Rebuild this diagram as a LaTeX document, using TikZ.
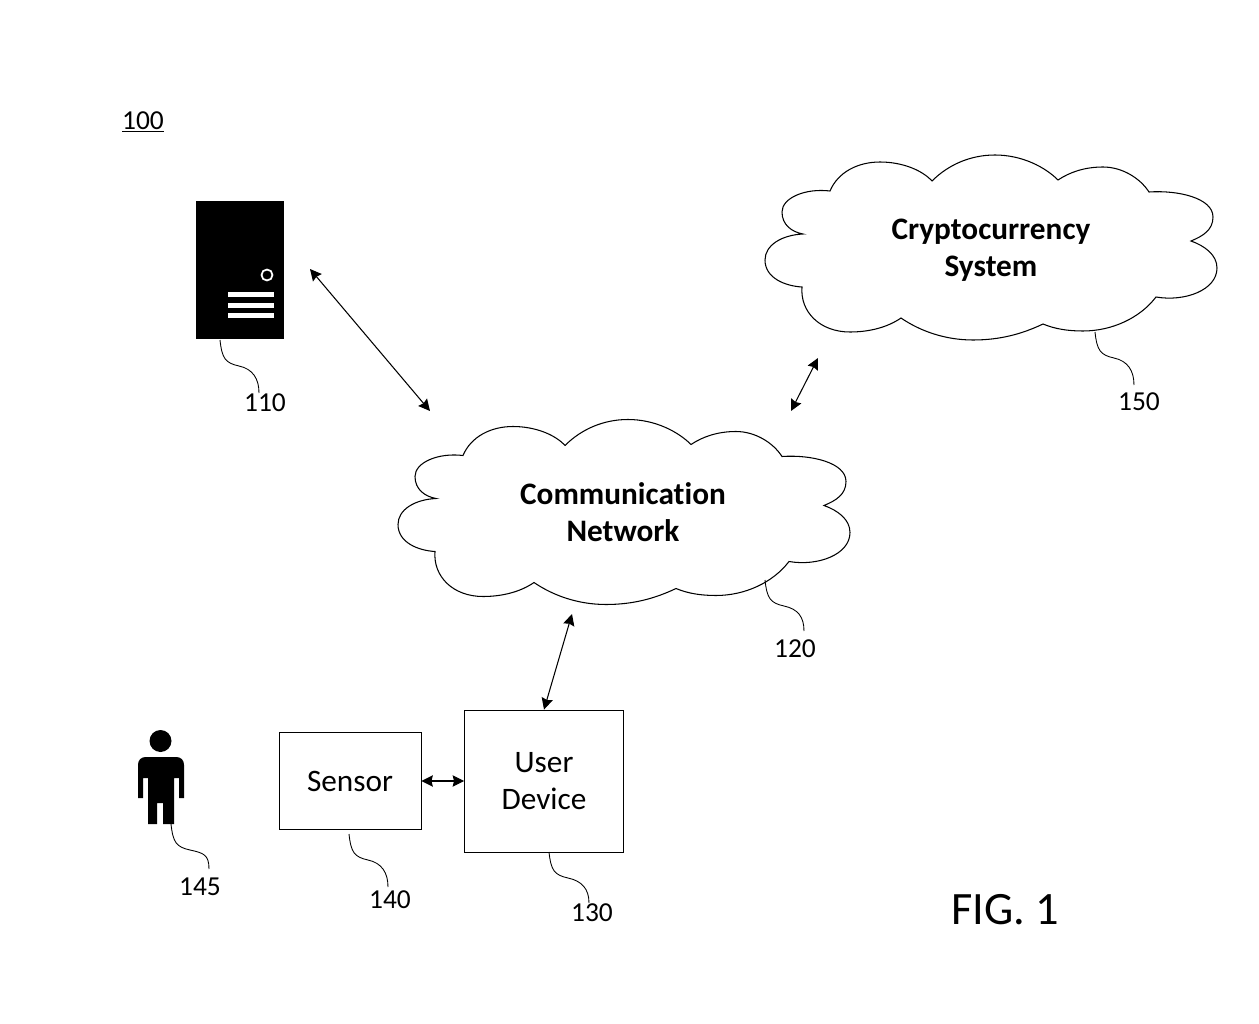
\documentclass[tikz,border=0pt]{standalone}
\usepackage{fontspec}
\setmainfont[Ligatures=NoCommon]{Carlito}
\usetikzlibrary{arrows.meta}

\tikzset{
    link/.style={{Stealth[length=6.5pt,width=6.5pt,inset=0.8pt]}-{Stealth[length=6.5pt,width=6.5pt,inset=0.8pt]},line width=0.6pt},
    leader/.style={line width=0.5pt},
    box/.style={draw,line width=0.5pt,font=\fontsize{17.8}{21.3}\selectfont,align=center,inner sep=0pt},
    cloudtext/.style={font=\fontsize{17.8}{21.3}\selectfont\bfseries,align=center},
    number/.style={font=\fontsize{15.6}{18}\selectfont,inner sep=0pt}
}

% outline of a cloud, in picture pixels
\newcommand{\cloudpath}{
    (830,191) .. controls (838,172) and (858,162) .. (880,162)
    .. controls (902,162) and (922,170) .. (932,181)
    .. controls (948,165) and (970,155) .. (995,155)
    .. controls (1022,155) and (1045,167) .. (1058,180)
    .. controls (1070,172) and (1085,167) .. (1103,167)
    .. controls (1122,167) and (1140,178) .. (1149,192)
    .. controls (1178,190) and (1213,198) .. (1213,217)
    .. controls (1213,230) and (1203,236) .. (1191,241)
    .. controls (1205,246) and (1217,255) .. (1217,268)
    .. controls (1217,290) and (1185,302) .. (1156,297)
    .. controls (1140,318) and (1112,331) .. (1083,331)
    .. controls (1068,331) and (1055,329) .. (1043,324)
    .. controls (1022,334) and (1000,340) .. (973,340)
    .. controls (945,340) and (920,331) .. (901,318)
    .. controls (888,327) and (870,332) .. (850,332)
    .. controls (820,332) and (800,312) .. (802,287)
    .. controls (785,286) and (765,278) .. (765,260)
    .. controls (765,245) and (782,235) .. (803,234)
    .. controls (792,232) and (782,225) .. (782,212)
    .. controls (782,198) and (805,188) .. (830,191) -- cycle
}

\begin{document}
\begin{tikzpicture}[x=0.02cm,y=-0.02cm]
    \useasboundingbox (0,0) rectangle (1259,1024);

    % clouds
    \draw[line width=0.6pt] \cloudpath;
    \draw[line width=0.6pt,shift={(-367,264.5)}] \cloudpath;
    \node[cloudtext] (crypto) at (991,250) {Cryptocurrency\\System};
    \node[cloudtext] (network) at (623,512) {Communication\\Network};

    % server
    \node[fill=black,minimum width=1.76cm,minimum height=2.76cm,inner sep=0pt] (server) at (240,270) {};
    \draw[white,fill=black,line width=1pt] (267,275) circle (5.5);
    \foreach \y in {292,302.5,313}
        \fill[white] (228,\y) rectangle (274,\y+5);

    % person
    \fill (160.5,741) circle (11);
    \fill (138,798) -- (138,765) .. controls (138,760) and (141,757) .. (146,757) -- (176,757)
        .. controls (181,757) and (184,760) .. (184,765) -- (184,798) -- (179,798)
        -- (179,778) -- (174,778) -- (174,824) -- (163,824) -- (163,803) -- (157,803)
        -- (157,824) -- (148,824) -- (148,778) -- (143,778) -- (143,798) -- cycle;

    % boxes
    \node[box,minimum width=2.84cm,minimum height=1.94cm] (sensor) at (350,781) {Sensor};
    \node[box,minimum width=3.18cm,minimum height=2.84cm] (device) at (544,781) {User\\Device};

    % connectors
    \coordinate (serverend) at (310,269);
    \coordinate (netleft) at (430,411);
    \coordinate (netright) at (791,411);
    \coordinate (cryptoend) at (818,358);
    \coordinate (netbottom) at (572,614);
    \draw[link] (serverend) -- (netleft);
    \draw[link] (netright) -- (cryptoend);
    \draw[link] (netbottom) -- (device.north);
    \draw[link] (sensor.east) -- (device.west);

    % reference numbers and their lead lines
    \foreach \name/\x/\y/\sx/\sy/\ex/\ey in {
        110/265/403/220/340/259/393,
        120/795/649/765/580/804/631,
        130/592/913/549/852/589/903,
        140/390/900/349/834/388/887,
        145/200/887/171/824/209/869,
        150/1139/402/1095/332/1134/385}{
        \node[number] (n\name) at (\x,\y) {\name};
        \coordinate (s\name) at (\sx,\sy);
        \coordinate (e\name) at (\ex,\ey);
        \draw[leader] (s\name) .. controls +(2,18) and +(-14,-3) .. ++(19,26)
            .. controls +(14,3) and +(0,-14) .. (e\name);
    }
    \node[number] (n100) at (143,122) {\underline{100}};
    \node[font=\fontsize{26.4}{30}\selectfont,inner sep=0pt] (fig) at (1005,910) {FIG. 1};
\end{tikzpicture}
\end{document}
